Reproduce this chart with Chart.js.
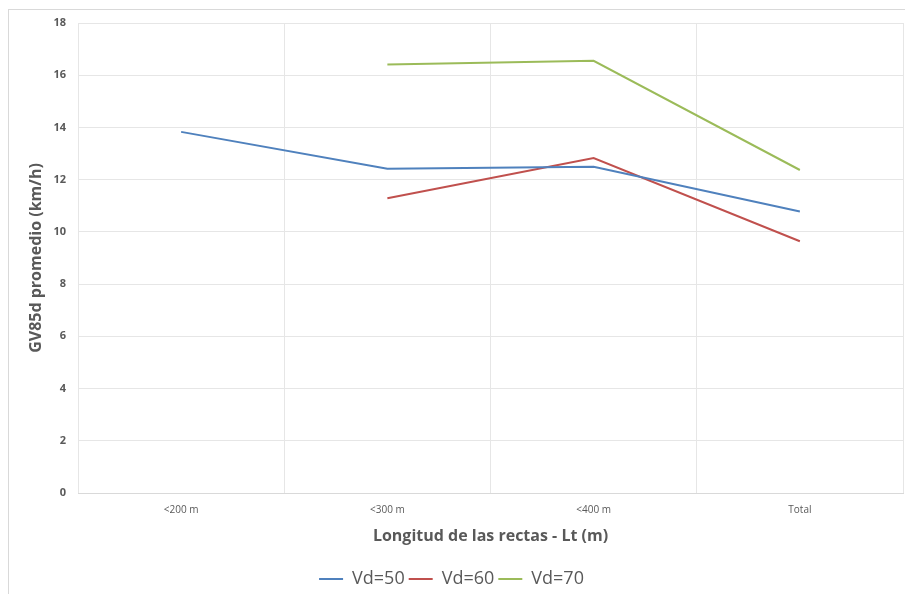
<!DOCTYPE html>
<html>
<head>
<meta charset="utf-8">
<script src="https://cdn.jsdelivr.net/npm/chart.js@4"></script>
<style>
  html, body { margin: 0; padding: 0; background: #fff; }
  #frame { position: absolute; left: 8px; top: 9px; width: 1000px; height: 1000px; border: 1px solid #d9d9d9; }
  #wrap { position: absolute; left: 0; top: 0; width: 905px; height: 594px; }
</style>
</head>
<body>
<div id="frame"></div>
<div id="wrap"><canvas id="gvChart"></canvas></div>
<script>
const categories = ['<200 m', '<300 m', '<400 m', 'Total'];
const vd50 = [13.83, 12.42, 12.49, 10.78];
const vd60 = [null, 11.29, 12.83, 9.64];
const vd70 = [null, 16.41, 16.55, 12.37];
const yTicks = [0, 2, 4, 6, 8, 10, 12, 14, 16, 18];

const fontFamily = '"Open Sans", "Liberation Sans", sans-serif';
const textColor = '#595959';

window.addEventListener('DOMContentLoaded', () => {
  const ctx = document.getElementById('gvChart').getContext('2d');
  new Chart(ctx, {
    type: 'line',
    data: {
      labels: categories,
      datasets: [
        { label: 'Vd=50', data: vd50, borderColor: '#4f81bd', backgroundColor: '#4f81bd', borderWidth: 2, pointRadius: 0, tension: 0 },
        { label: 'Vd=60', data: vd60, borderColor: '#c0504d', backgroundColor: '#c0504d', borderWidth: 2, pointRadius: 0, tension: 0 },
        { label: 'Vd=70', data: vd70, borderColor: '#9bbb59', backgroundColor: '#9bbb59', borderWidth: 2, pointRadius: 0, tension: 0 }
      ]
    },
    options: {
      responsive: true,
      maintainAspectRatio: false,
      animation: false,
      layout: { padding: { top: 23, right: 2, bottom: -4, left: 0 } },
      scales: {
        x: {
          offset: true,
          grid: { offset: true, color: '#e6e6e6', drawTicks: false },
          border: { color: '#d9d9d9' },
          ticks: { color: textColor, padding: 11, font: { family: fontFamily, size: 10 } },
          title: { display: true, text: 'Longitud de las rectas - Lt (m)', color: textColor,
                   font: { family: fontFamily, size: 16, weight: 'bold' }, padding: { top: 0, bottom: 20 } },
          afterFit: scale => { scale.height = 73; }
        },
        y: {
          min: 0,
          max: 18,
          afterBuildTicks: scale => { scale.ticks = yTicks.map(v => ({ value: v })); },
          grid: { color: '#e6e6e6', drawTicks: false },
          border: { display: false },
          ticks: { color: textColor, padding: 12, font: { family: fontFamily, size: 11, weight: 'bold' } },
          title: { display: true, text: 'GV85d promedio (km/h)', color: textColor,
                   font: { family: fontFamily, size: 16, weight: 'bold' }, padding: { top: 27, bottom: 0 } },
          afterFit: scale => { scale.width = 78; }
        }
      },
      plugins: {
        legend: {
          position: 'bottom',
          labels: {
            usePointStyle: true,
            pointStyle: 'line',
            pointStyleWidth: 24,
            color: textColor,
            padding: 4,
            font: { family: fontFamily, size: 18 }
          }
        },
        tooltip: { enabled: false }
      }
    }
  });
});
</script>
</body>
</html>
